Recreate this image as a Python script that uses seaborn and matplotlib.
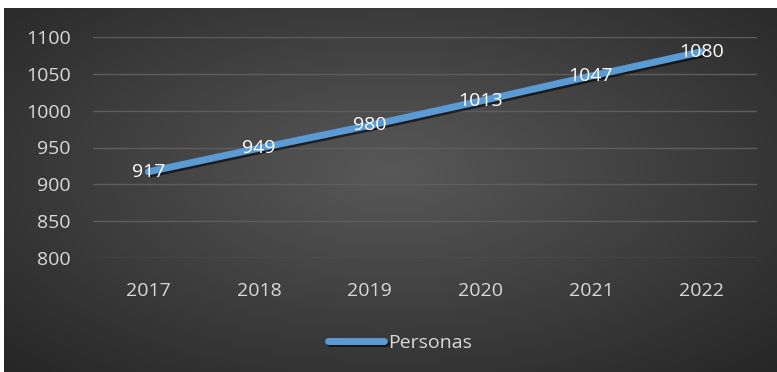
import numpy as np
import pandas as pd
import matplotlib
matplotlib.use("Agg")
import matplotlib.pyplot as plt
import matplotlib.patheffects as pe
import seaborn as sns

# Datos
anios = ["2017", "2018", "2019", "2020", "2021", "2022"]
personas = [917, 949, 980, 1013, 1047, 1080]
serie = "Personas"

df = pd.DataFrame({"anio": anios, "valor": personas})

sns.set_theme(style="dark")
plt.rcParams["font.family"] = ["Open Sans", "DejaVu Sans"]

fig = plt.figure(figsize=(7.77, 3.72), dpi=100)
fig.patch.set_facecolor("white")

# Fondo con degradado radial (estilo Excel oscuro)
bg = fig.add_axes([4 / 777, 0, 773 / 777, 364 / 372])
yy, xx = np.mgrid[0:1:200j, 0:1:400j]
r = np.sqrt(((xx - 0.5) / 0.75) ** 2 + ((yy - 0.45) / 0.8) ** 2)
r = np.clip(r, 0, 1)
centro = np.array([0x58, 0x58, 0x58]) / 255
borde = np.array([0x24, 0x24, 0x24]) / 255
img = centro[None, None, :] * (1 - r[..., None]) + borde[None, None, :] * r[..., None]
bg.imshow(img, aspect="auto", extent=[0, 1, 0, 1])
bg.set_axis_off()

ax = fig.add_axes([93 / 777, (372 - 258) / 372, 664 / 777, 221 / 372])
ax.set_facecolor("none")

sns.lineplot(data=df, x="anio", y="valor", ax=ax, color="#5B9BD5", linewidth=5,
             label=serie, sort=False,
             path_effects=[pe.SimpleLineShadow(offset=(1.5, -1.5), shadow_color="black", alpha=0.6),
                           pe.Normal()])

for i, v in enumerate(personas):
    ax.text(i, v, str(v), ha="center", va="center", color="white", fontsize=14)

ax.set_xlim(-0.5, 5.5)
ax.set_ylim(800, 1100)
ax.set_yticks(range(800, 1101, 50))
ax.grid(axis="y", color="#5e5e5e", linewidth=1)
ax.grid(axis="x", visible=False)
for s in ax.spines.values():
    s.set_visible(False)
ax.tick_params(axis="both", colors="#d9d9d9", labelsize=14, length=0)
ax.tick_params(axis="x", pad=17)
ax.tick_params(axis="y", pad=16)
ax.set_xlabel("")
ax.set_ylabel("")

ax.get_legend().remove()
h, l = ax.get_legend_handles_labels()
leg = fig.legend(h, l, loc="center", bbox_to_anchor=(400 / 777, (372 - 343) / 372),
                 frameon=False, fontsize=14, handlelength=2.9, handletextpad=0.2)
for t in leg.get_texts():
    t.set_color("#d9d9d9")

fig.savefig("out.png", dpi=100)
